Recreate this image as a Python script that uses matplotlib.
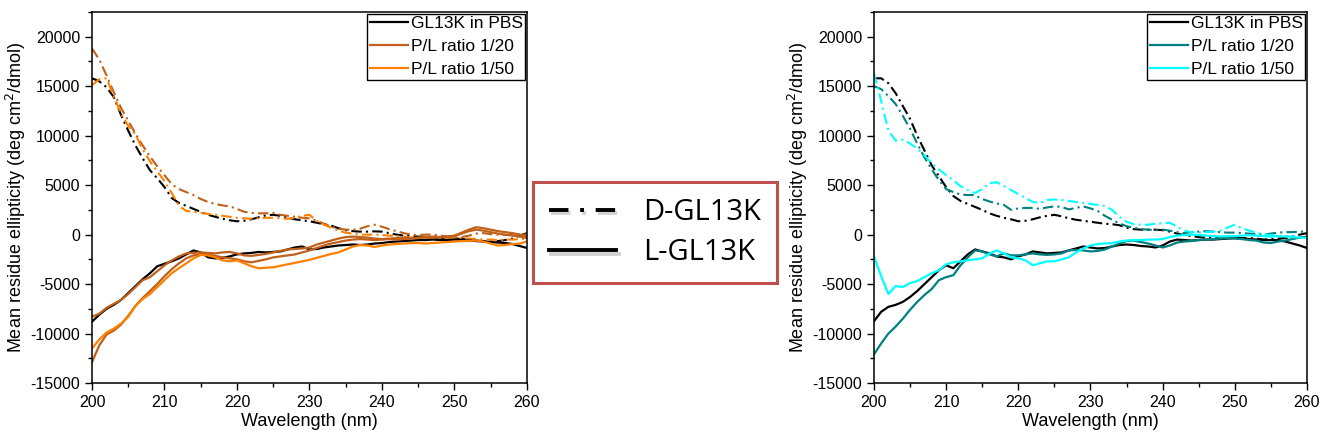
import numpy as np
import matplotlib.pyplot as plt
import matplotlib.patheffects as pe
from matplotlib.lines import Line2D
from matplotlib.ticker import MultipleLocator

plt.rcParams["font.family"] = ["Liberation Sans", "DejaVu Sans"]
plt.rcParams["axes.unicode_minus"] = False

# wavelength grid (nm), 1 nm steps
wavelength = np.arange(200, 261)

# ---- left panel: GL13K in PBS / P/L 1/20 / P/L 1/50 (brown-orange) ----
pbs_D_left = [15800, 15500, 14900, 13900, 12100, 10500, 9000, 7700, 6500, 5700,
              4800, 3700, 3200, 2900, 2600, 2300, 2000, 1800, 1600, 1450,
              1350, 1400, 1550, 1750, 1950, 2000, 1900, 1700, 1550, 1450,
              1350, 1200, 1050, 900, 650, 450, 350, 300, 300, 330,
              300, 150, 0, -100, -150, -200, -250, -300, -300, -350,
              -400, -450, -500, -600, -650, -700, -650, -550, -400, -100,
              150]
pl20_D_left = [18800, 17700, 16100, 14400, 12800, 11500, 10200, 9000, 7900, 6900,
               6000, 5100, 4600, 4300, 4000, 3600, 3300, 3100, 2950, 2850,
               2600, 2300, 2200, 2150, 2150, 2200, 2000, 1900, 1800, 1700,
               1650, 1400, 1100, 800, 600, 500, 500, 600, 850, 1000,
               800, 550, 350, 150, 0, -50, 0, 0, -100, -200,
               -300, -250, -100, 100, 150, 50, 0, -50, 0, 50,
               0]
pl50_D_left = [15100, 15700, 15800, 14000, 12200, 11000, 10100, 8600, 7400, 6400,
               5400, 4200, 2900, 2400, 2300, 2200, 2100, 2000, 1900, 1800,
               1700, 1650, 1600, 1650, 1700, 1700, 1650, 1600, 1700, 1900,
               2000, 1400, 1000, 700, 400, 200, 100, 0, 0, 0,
               -50, -100, -150, -200, -300, -350, -300, -300, -350, -350,
               -300, -350, -400, -450, -500, -500, -550, -500, -500, -450,
               -400]
pbs_L_left = [-8800, -8100, -7500, -7100, -6600, -5900, -5200, -4500, -3900, -3200,
              -2950, -2700, -2400, -2000, -1600, -1800, -2300, -2400, -2350, -2200,
              -2000, -1900, -1850, -1750, -1800, -1750, -1700, -1500, -1300, -1200,
              -1500, -1450, -1300, -1200, -1100, -1050, -1000, -1050, -1000, -900,
              -850, -750, -700, -650, -600, -550, -550, -500, -550, -550,
              -500, -550, -600, -650, -700, -750, -800, -850, -950, -1150,
              -1350]
pl20_L_left = [-8300, -8000, -7400, -7000, -6600, -6000, -5300, -4600, -4300, -3700,
               -3100, -2600, -2200, -1900, -1850, -1800, -1850, -1900, -1800, -1750,
               -1900, -2100, -2150, -2050, -1950, -1800, -1650, -1500, -1450, -1400,
               -1300, -1000, -800, -600, -400, -250, -200, -250, -300, -400,
               -450, -400, -350, -300, -350, -300, -250, -200, -250, -200,
               -100, 200, 500, 750, 650, 500, 350, 250, 150, 0,
               -150]
pl20b_L_left = [-12900, -11200, -10100, -9700, -9100, -8200, -7200, -6400, -5700, -5000,
                -4200, -3500, -2900, -2400, -2100, -2000, -2000, -2150, -2300, -2400,
                -2500, -2700, -2800, -2650, -2500, -2300, -2200, -2100, -2000, -1800,
                -1600, -1350, -1100, -900, -750, -600, -500, -450, -500, -550,
                -500, -450, -500, -450, -400, -350, -300, -300, -250, -200,
                -150, 100, 350, 500, 400, 250, 100, 0, -100, -200,
                -350]
pl50_L_left = [-11500, -10600, -9900, -9500, -9000, -8300, -7200, -6500, -6000, -5300,
               -4600, -3900, -3400, -2900, -2400, -2050, -2100, -2300, -2600, -2700,
               -2600, -2900, -3200, -3400, -3350, -3300, -3150, -3000, -2850, -2700,
               -2550, -2350, -2150, -1950, -1800, -1500, -1200, -1050, -1100, -1250,
               -1100, -1000, -950, -900, -850, -850, -900, -850, -800, -750,
               -700, -650, -650, -600, -700, -900, -1100, -1050, -950, -900,
               -700]

# ---- right panel: GL13K in PBS / P/L 1/20 / P/L 1/50 (teal-cyan) ----
pbs_D_right = [15800, 15800, 15300, 14300, 13000, 11700, 10000, 8500, 7000, 5900,
               4800, 3900, 3400, 3100, 2800, 2500, 2150, 1900, 1700, 1550,
               1350, 1400, 1550, 1750, 1900, 2000, 1850, 1650, 1500, 1400,
               1300, 1200, 1100, 1050, 950, 700, 550, 500, 500, 500,
               450, 300, 100, -50, -150, -250, -300, -250, -300, -350,
               -350, -350, -350, -400, -500, -450, -400, -350, -200, 0,
               150]
pl20_D_right = [15000, 14700, 14000, 13200, 12000, 10700, 9200, 7800, 6600, 5500,
                4600, 4300, 4050, 4000, 4000, 3600, 3350, 3150, 3000, 2500,
                2650, 2700, 2700, 2600, 2750, 2850, 2800, 2550, 2700, 2850,
                2650, 2400, 1900, 1500, 1150, 850, 700, 550, 500, 450,
                500, 400, 250, 150, 250, 300, 350, 300, 250, 200,
                200, 150, 100, 50, 0, 100, 200, 250, 250, 300,
                300]
pl50_D_right = [16300, 13500, 10500, 9500, 9600, 9200, 8700, 8000, 7200, 6600,
                6000, 5500, 4900, 4500, 4200, 4600, 5200, 5300, 4900, 4500,
                4100, 3700, 3300, 3200, 3500, 3550, 3500, 3400, 3300, 3200,
                3100, 3000, 2900, 2500, 1800, 1300, 1050, 1000, 1000, 1100,
                1150, 1200, 800, 400, 250, 200, 250, 300, 400, 700,
                1000, 650, 400, 200, 50, -50, -100, -150, -200, -250,
                -350]
pbs_L_right = [-8750, -7800, -7300, -7100, -6800, -6300, -5700, -5000, -4300, -3600,
               -3100, -3400, -2700, -2000, -1500, -1700, -1900, -2200, -2300, -2500,
               -2200, -2000, -1700, -1800, -1900, -1850, -1800, -1600, -1400, -1200,
               -1300, -1400, -1350, -1200, -1050, -1000, -1050, -1150, -1200, -1300,
               -1100, -700, -500, -550, -600, -550, -500, -500, -450, -400,
               -350, -400, -450, -500, -550, -550, -550, -700, -900, -1100,
               -1350]
pl20_L_right = [-12100, -11000, -10000, -9300, -8500, -7600, -6800, -6100, -5500, -4600,
                -4300, -4100, -3100, -2300, -1600, -1700, -2000, -2200, -1900, -2100,
                -2100, -2000, -1900, -2000, -2050, -2000, -1900, -1600, -1550, -1600,
                -1700, -1650, -1500, -1200, -900, -650, -600, -750, -900, -1100,
                -1300, -1100, -800, -700, -650, -550, -500, -450, -400, -350,
                -400, -450, -550, -600, -800, -850, -700, -600, -450, -300,
                -200]
pl50_L_right = [-2200, -4200, -6000, -5200, -5300, -4900, -4700, -4300, -3900, -3600,
                -3000, -2800, -2700, -2600, -2500, -2400, -1900, -1600, -1900, -2300,
                -2400, -2600, -3100, -2900, -2700, -2700, -2500, -2300, -1800, -1400,
                -1100, -950, -900, -850, -700, -600, -550, -550, -500, -500,
                -450, -250, -100, -50, 0, -50, -100, -150, -200, -150,
                -150, -100, -50, -100, -150, -200, -150, -200, -250, -300,
                -350]

legend_labels = ["GL13K in PBS", "P/L ratio 1/20", "P/L ratio 1/50"]
brown, orange = "#c0601a", "#ff8000"
teal, cyan = "#008080", "#00ffff"
dashdot = (0, (5, 2, 1, 2))

fig = plt.figure(figsize=(13.2, 4.43), dpi=100)
ax1 = fig.add_axes([0.0697, 0.1354, 0.3295, 0.8375])
ax2 = fig.add_axes([0.6621, 0.1354, 0.3280, 0.8375])


def draw_panel(ax, D_series, L_series, colors):
    handles = []
    for ys, c in zip(D_series, colors):
        ax.plot(wavelength, ys, color=c, lw=1.5, ls=dashdot)
    for ys, c in L_series:
        line, = ax.plot(wavelength, ys, color=c, lw=1.6)
        handles.append(line)
    return handles


h1 = draw_panel(ax1,
                [pbs_D_left, pl20_D_left, pl50_D_left],
                [(pbs_L_left, "black"), (pl20_L_left, brown),
                 (pl20b_L_left, brown), (pl50_L_left, orange)],
                ["black", brown, orange])
h2 = draw_panel(ax2,
                [pbs_D_right, pl20_D_right, pl50_D_right],
                [(pbs_L_right, "black"), (pl20_L_right, teal), (pl50_L_right, cyan)],
                ["black", teal, cyan])

for ax, hs in [(ax1, [h1[0], h1[1], h1[3]]), (ax2, h2)]:
    ax.set_xlim(200, 260)
    ax.set_ylim(-15000, 22500)
    ax.xaxis.set_major_locator(MultipleLocator(10))
    ax.xaxis.set_minor_locator(MultipleLocator(5))
    ax.yaxis.set_minor_locator(MultipleLocator(2500))
    ax.set_yticks(np.arange(-15000, 20001, 5000))
    ax.tick_params(which="major", direction="out", length=5, width=1, labelsize=11.5)
    ax.tick_params(which="minor", direction="out", length=3, width=1)
    for sp in ax.spines.values():
        sp.set_linewidth(1.1)
    ax.set_xlabel("Wavelength (nm)", fontsize=13, labelpad=2)
    ax.set_ylabel("Mean residue ellipticity (deg cm$^2$/dmol)", fontsize=13, labelpad=2)
    leg = ax.legend(hs, legend_labels, loc="upper right", fontsize=12.5,
                    frameon=True, fancybox=False, edgecolor="black", framealpha=1,
                    borderpad=0.15, borderaxespad=0.1, handlelength=2.2,
                    handletextpad=0.15, labelspacing=0.45)
    leg.get_frame().set_linewidth(1.0)

# shared line-style legend between the panels
shadow = [pe.SimpleLineShadow(offset=(1.5, -2.5), shadow_color="gray", alpha=0.35), pe.Normal()]
style_handles = [
    Line2D([], [], color="black", lw=2.8, ls=(0, (5, 3, 1, 3)), path_effects=shadow),
    Line2D([], [], color="black", lw=2.8, ls="-", path_effects=shadow),
]
fleg = fig.legend(style_handles, ["D-GL13K", "L-GL13K"], loc="center",
                  bbox_to_anchor=(0.4962, 0.475),
                  prop={"family": ["Open Sans", "DejaVu Sans"], "size": 21},
                  frameon=True, fancybox=False, edgecolor="#c0504d", framealpha=1,
                  handlelength=2.3, handletextpad=0.9, borderpad=0.55,
                  labelspacing=0.4, borderaxespad=0)
fleg.get_frame().set_linewidth(2.2)

fig.savefig("out.png", dpi=100)
